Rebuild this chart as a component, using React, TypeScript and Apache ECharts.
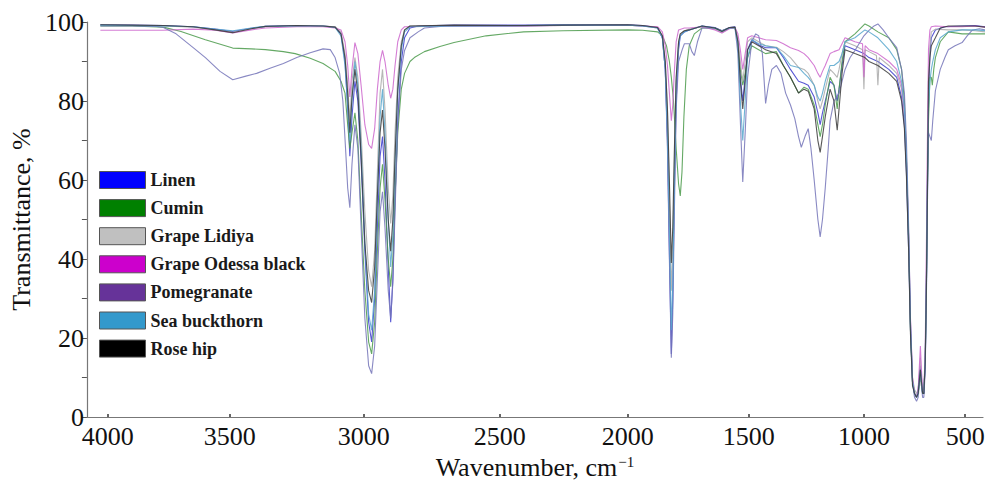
import React, { useEffect, useRef } from "react";
import * as echarts from "echarts";

const SERIES_NAMES = ["Linen", "Cumin", "Grape Lidiya", "Grape Odessa black", "Pomegranate", "Sea buckthorn", "Rose hip"];
const LEGEND_COLORS = ["#0000ff", "#008000", "#c0c0c0", "#cc00cc", "#663399", "#3399cc", "#000000"];
const LINE_COLORS = ["#3b3bcc", "#4a9a4a", "#a9a9a9", "#cc66cc", "#7474b8", "#56a6cc", "#3a3a3a"];

const X_TICKS = [4000, 3500, 3000, 2500, 2000, 1500, 1000, 500];
const Y_TICKS = [0, 20, 40, 60, 80, 100];

// axis calibration of the (non-uniform) wavenumber scale in the reference
const AXIS_WN = [4085, 4000, 3500, 3000, 2500, 2000, 1500, 1000, 500, 412];
const AXIS_PX = [80, 101, 224, 359, 496, 625, 747, 863, 965, 983];

const linen: [number, number][] = [[4030,99.3],[3900,99.2],[3772,99.1],[3650,98.8],[3560,98.2],[3489,97.6],[3420,98.4],[3367,98.9],[3250,99.1],[3152,99],[3107,98.7],[3085,97],[3070,90],[3060,78],[3052,66],[3044,76],[3033,85],[3022,80],[3010,65],[2996,42],[2982,24],[2971,19],[2960,30],[2950,48],[2940,66],[2931,71],[2922,60],[2910,38],[2901,24],[2893,35],[2885,55],[2875,75],[2862,90],[2850,96],[2830,98.5],[2800,99],[2668,99.2],[2407,99.2],[2252,99.3],[2000,99.3],[1939,99.1],[1877,98.6],[1857,96],[1845,88],[1836,70],[1828,42],[1820,16],[1814,30],[1808,55],[1800,80],[1790,93],[1783,96.5],[1766,97.5],[1746,98],[1693,99],[1640,98.6],[1611,97.8],[1580,98.6],[1557,98.8],[1545,95],[1535,86],[1525,80],[1515,86],[1505,93],[1487,95.5],[1457,94.2],[1427,93.5],[1380,93.5],[1350,91],[1319,88],[1284,85],[1260,84.5],[1242,84],[1216,81],[1200,77],[1190,74],[1180,77],[1168,80],[1147,85],[1130,84],[1116,80],[1108,83],[1095,89],[1082,94],[1060,93.5],[1039,93],[1000,92],[975,91],[931,90],[877,88],[838,86],[814,81],[800,74],[790,62],[779,42],[770,22],[760,9],[750,6],[740,5],[732,7],[725,11],[721,13],[716,9],[710,6],[704,6],[697,14],[691,32],[686,55],[681,80],[674,92],[667,96],[647,98],[600,98.8],[515,99],[451,99.1],[400,98.8]];

const cumin: [number, number][] = [[4030,99],[3900,99],[3772,98.7],[3700,97.6],[3600,95.5],[3489,93.4],[3420,93.2],[3367,93],[3300,92.5],[3256,92],[3200,90.8],[3152,89.5],[3107,87.5],[3085,85],[3070,82],[3060,74],[3052,68],[3044,72],[3033,77],[3022,70],[3010,52],[2996,32],[2982,19],[2971,16],[2960,24],[2950,42],[2940,58],[2931,64],[2922,55],[2910,40],[2901,33],[2893,40],[2885,56],[2875,72],[2862,83],[2850,87],[2830,90],[2814,91],[2777,92.5],[2720,93.8],[2668,94.8],[2550,96.5],[2407,97.5],[2252,97.8],[2000,98],[1939,97.9],[1877,97.5],[1857,96.5],[1840,94],[1828,90],[1820,86],[1811,80],[1800,68],[1790,59],[1783,56],[1776,62],[1768,76],[1758,88],[1746,94],[1725,97],[1693,98.5],[1640,98.5],[1611,97.8],[1580,98.5],[1557,98.5],[1545,95],[1535,88],[1525,84],[1515,87],[1505,91],[1487,94],[1457,93],[1427,92],[1380,92.5],[1350,89],[1319,86],[1284,82],[1260,83.5],[1242,83],[1216,79],[1200,74],[1190,71],[1180,74],[1168,79],[1147,86],[1130,84],[1116,78],[1108,83],[1095,90],[1082,95],[1039,97],[995,99.5],[975,99],[931,97.5],[877,96],[838,93],[814,88],[800,80],[790,66],[779,45],[770,22],[760,9],[750,6],[740,5],[732,6],[725,9],[721,11],[716,8],[710,6],[704,6],[697,15],[691,35],[686,58],[681,75],[674,86],[667,86],[662,84],[655,88],[647,91],[623,95],[583,97.5],[515,97],[451,97],[400,97]];

const grapeLidiya: [number, number][] = [[4030,99.2],[3900,99.1],[3772,99],[3650,98.7],[3560,98],[3489,97.4],[3420,98.3],[3367,98.8],[3250,99],[3152,99],[3107,98.8],[3085,97.5],[3070,92],[3060,84],[3052,75],[3044,85],[3033,91],[3022,86],[3010,72],[2996,52],[2982,37],[2971,33],[2960,42],[2950,62],[2940,82],[2931,88],[2922,78],[2910,58],[2901,49],[2893,56],[2885,72],[2875,86],[2862,95],[2850,98],[2830,99],[2668,99.1],[2407,99],[2252,99.1],[2000,99.2],[1939,99],[1877,98.6],[1857,96.5],[1845,90],[1836,78],[1828,55],[1820,32],[1814,42],[1808,62],[1800,85],[1790,95],[1783,97],[1766,97.8],[1746,98.2],[1693,98.8],[1640,98.2],[1611,97.3],[1580,98.5],[1557,98.6],[1545,96],[1535,90],[1525,85],[1515,90],[1505,95],[1487,96],[1457,95],[1427,94],[1380,93.6],[1350,92.5],[1319,91],[1284,88.5],[1260,88],[1242,87],[1216,84],[1200,80],[1190,78],[1180,80],[1168,83],[1147,88],[1130,87],[1116,86],[1108,88],[1095,92],[1082,95],[1039,94],[1006,93],[1000,83],[994,93],[975,92.5],[938,91.5],[931,84],[924,91],[877,89],[838,87],[814,83],[800,76],[790,64],[779,45],[770,24],[760,10],[750,7],[740,6],[732,7],[725,12],[721,15],[716,10],[710,7],[704,6],[697,16],[691,38],[686,62],[681,85],[674,94],[667,97.5],[647,98.2],[583,98],[515,98],[451,97.8],[400,97.5]];

const grapeOdessa: [number, number][] = [[4030,97.9],[3900,97.9],[3772,97.9],[3650,98.2],[3560,97.9],[3489,97.2],[3420,98],[3367,98.5],[3250,98.8],[3152,98.8],[3107,98.5],[3085,98],[3070,95],[3060,89],[3052,81],[3044,88],[3033,94.8],[3022,92],[3010,84],[2996,74],[2982,69],[2971,68],[2960,73],[2950,83],[2940,90],[2931,92.8],[2922,90],[2910,84],[2901,80.7],[2893,83],[2885,89],[2875,95],[2862,98],[2850,98.8],[2668,99],[2407,99],[2252,99.1],[2000,99.2],[1939,99],[1877,98.8],[1857,97.5],[1845,94],[1836,89],[1828,82],[1820,75],[1814,79],[1808,87],[1800,95],[1790,98],[1766,98.5],[1746,98.5],[1693,98.8],[1640,98],[1611,97.2],[1580,98.3],[1557,98.6],[1545,97],[1535,93],[1525,88],[1515,92],[1505,96],[1487,96.5],[1457,96],[1427,95.5],[1380,95.3],[1350,94.5],[1319,93.5],[1284,92.8],[1260,92],[1242,91],[1216,89],[1200,87],[1190,86],[1180,87.5],[1168,89],[1147,92],[1130,92.5],[1108,93],[1082,96],[1039,95],[1006,94.5],[1000,86],[994,94],[975,93],[931,92],[877,90],[838,88],[814,84],[800,77],[790,65],[779,46],[770,25],[760,10],[750,6],[740,5],[732,7],[725,14],[721,18],[716,12],[710,7],[704,6],[697,18],[691,45],[686,72],[681,93],[674,98],[667,98.8],[647,99],[583,98.8],[515,98.8],[451,99],[400,98.7]];

const pomegranate: [number, number][] = [[4030,99],[3900,99],[3800,98.9],[3772,98.6],[3720,97],[3650,93.5],[3600,91],[3540,87.5],[3489,85.4],[3440,86.3],[3400,87],[3350,88.3],[3300,89.5],[3250,91],[3200,92.2],[3152,93.2],[3125,93],[3107,91],[3090,87],[3078,80],[3068,68],[3060,58],[3052,53],[3044,64],[3033,74],[3022,68],[3010,48],[2996,25],[2982,13],[2971,11],[2960,18],[2950,35],[2940,52],[2931,57],[2922,48],[2910,32],[2901,25],[2893,34],[2885,52],[2875,74],[2862,88],[2850,92.8],[2830,96],[2800,97.5],[2777,98.5],[2700,99],[2407,99],[2252,99.2],[2000,99.2],[1939,99],[1877,98.5],[1857,96],[1845,88],[1836,68],[1828,40],[1820,15],[1814,26],[1808,50],[1800,78],[1790,90],[1775,93],[1766,94.5],[1746,94.5],[1735,92.5],[1725,91.5],[1712,95],[1693,98.5],[1640,98.5],[1611,97.8],[1580,98.5],[1557,98.5],[1545,92],[1535,75],[1525,59.5],[1515,72],[1505,86],[1487,95],[1470,97],[1457,96.5],[1441,92],[1427,79.4],[1415,84],[1400,88],[1380,89],[1360,87],[1340,82],[1319,79],[1300,75.5],[1284,71],[1272,68.3],[1256,71],[1242,73],[1230,68],[1216,60],[1200,50],[1190,45.6],[1180,50],[1168,58],[1155,68],[1147,75],[1130,80],[1108,82],[1095,85],[1082,88],[1060,91],[1039,92.8],[1000,96.5],[975,97.9],[950,99],[931,99.5],[905,98],[877,96],[838,93.5],[814,88],[800,82],[790,70],[779,48],[770,24],[760,9],[750,5],[740,4],[732,5],[725,9],[721,12],[716,8],[710,5],[704,5],[697,12],[691,35],[686,62],[681,72],[674,71],[667,70],[660,75],[647,82.6],[623,88],[600,91],[583,93],[550,94],[515,94.8],[490,96.5],[466,97.9],[430,98.3],[400,98]];

const seaBuckthorn: [number, number][] = [[4030,99.2],[3900,99.1],[3772,99],[3650,98.8],[3560,98.2],[3489,97.8],[3420,98.5],[3367,98.9],[3250,99],[3152,99],[3107,98.6],[3085,96.5],[3070,89],[3060,79],[3052,70],[3044,80],[3033,90],[3022,84],[3010,68],[2996,44],[2982,26],[2971,22],[2960,32],[2950,55],[2940,76],[2931,83],[2922,72],[2910,50],[2901,38],[2893,46],[2885,64],[2875,82],[2862,93],[2850,97.5],[2830,98.8],[2668,99],[2407,99.1],[2252,99.2],[2000,99.2],[1939,99],[1877,98.5],[1857,96],[1845,88],[1836,72],[1828,48],[1820,22],[1814,34],[1808,58],[1800,84],[1790,94],[1783,96.5],[1766,97.5],[1746,98],[1693,99],[1640,98.4],[1611,97.6],[1580,98.5],[1557,98.6],[1545,94],[1535,80],[1525,70],[1515,80],[1505,91],[1487,95.5],[1457,94.5],[1427,94],[1380,93.5],[1350,91.5],[1319,89],[1284,88.5],[1260,87],[1242,86],[1216,84],[1200,81],[1190,80],[1180,82],[1168,85],[1147,89],[1130,89],[1108,90],[1095,92],[1082,95],[1039,96],[995,98],[975,97.5],[931,96],[877,93],[838,90],[814,85],[800,78],[790,65],[779,45],[770,23],[760,9],[750,6],[740,5],[732,6],[725,10],[721,12],[716,9],[710,6],[704,6],[697,15],[691,36],[686,60],[681,78],[674,85],[667,88],[660,90],[647,93],[623,96],[583,97.5],[515,98],[451,98],[400,97.8]];

const roseHip: [number, number][] = [[4030,99.3],[3900,99.2],[3772,99.1],[3650,98.8],[3560,98],[3489,97.3],[3420,98.3],[3367,98.9],[3250,99.1],[3152,99],[3107,98.7],[3085,97],[3070,91],[3060,82],[3052,72],[3044,81],[3033,88],[3022,82],[3010,66],[2996,44],[2982,32],[2971,29],[2960,38],[2950,56],[2940,72],[2931,77.7],[2922,68],[2910,50],[2901,42],[2893,50],[2885,66],[2875,83],[2862,94],[2850,98],[2830,99],[2668,99.2],[2407,99.1],[2252,99.2],[2000,99.3],[1939,99.1],[1877,98.6],[1857,96.5],[1845,90],[1836,78],[1828,60],[1820,39],[1814,48],[1808,66],[1800,86],[1790,95],[1783,97],[1766,97.8],[1746,98],[1693,99],[1640,98.5],[1611,97.6],[1580,98.6],[1557,98.7],[1545,95],[1535,85],[1525,78],[1515,85],[1505,93],[1487,95],[1457,94],[1427,93],[1380,92],[1350,89],[1319,86],[1284,82],[1260,83],[1242,82.5],[1216,78],[1200,70],[1190,67],[1180,71],[1168,76],[1147,83],[1130,80],[1116,72.6],[1108,78],[1095,87],[1082,93],[1039,92],[995,91],[975,90],[931,89],[877,87],[838,85],[814,80],[800,73],[790,61],[779,42],[770,21],[760,8],[750,6],[740,5],[732,6],[725,10],[721,12],[716,9],[710,6],[704,6],[697,14],[691,34],[686,58],[681,85],[674,91],[667,94],[647,96],[623,98.5],[583,99],[515,99],[451,99],[400,98.7]];

const SERIES_DATA = [linen, cumin, grapeLidiya, grapeOdessa, pomegranate, seaBuckthorn, roseHip];

function wnToX(wn: number): number {
  const n = AXIS_WN.length;
  for (let i = 0; i < n - 1; i++) {
    const a = AXIS_WN[i], b = AXIS_WN[i + 1];
    if (wn <= a && wn >= b) {
      return AXIS_PX[i] + ((a - wn) / (a - b)) * (AXIS_PX[i + 1] - AXIS_PX[i]);
    }
  }
  if (wn > AXIS_WN[0]) {
    return AXIS_PX[0] - ((wn - AXIS_WN[0]) / (AXIS_WN[0] - AXIS_WN[1])) * (AXIS_PX[1] - AXIS_PX[0]);
  }
  const a = AXIS_WN[n - 2], b = AXIS_WN[n - 1];
  return AXIS_PX[n - 1] + ((b - wn) / (a - b)) * (AXIS_PX[n - 1] - AXIS_PX[n - 2]);
}

const TICK_X = X_TICKS.map(wnToX);
const SERIF = "Liberation Serif";

export default function App() {
  const ref = useRef<HTMLDivElement>(null);
  useEffect(() => {
    if (!ref.current) return;
    const chart = echarts.init(ref.current, undefined, { renderer: "svg" });
    chart.setOption({
      animation: false,
      backgroundColor: "#ffffff",
      textStyle: { fontFamily: SERIF },
      grid: { left: 80, right: 6, top: 22, bottom: 67 },
      legend: {
        data: SERIES_NAMES,
        orient: "vertical",
        left: 99,
        top: 171,
        padding: 0,
        icon: "rect",
        itemWidth: 46,
        itemHeight: 17,
        itemGap: 10.1,
        selectedMode: false,
        itemStyle: { borderColor: "#555555", borderWidth: 1 },
        textStyle: { fontFamily: SERIF, fontWeight: "bold", fontSize: 18, color: "#1a1a1a" },
      },
      xAxis: {
        type: "value",
        min: AXIS_PX[0],
        max: AXIS_PX[AXIS_PX.length - 1],
        name: "Wavenumber, cm{sup|−1}",
        nameLocation: "middle",
        nameGap: 33,
        nameTextStyle: {
          fontFamily: SERIF,
          fontSize: 26,
          color: "#111",
          rich: { sup: { fontFamily: SERIF, fontSize: 15, color: "#111", verticalAlign: "top", padding: [0, 0, 10, 1] } },
        },
        axisLine: { show: true, onZero: false, lineStyle: { color: "#777", width: 1.2 } },
        axisTick: { show: true, inside: true, length: 3, customValues: TICK_X, lineStyle: { color: "#333", width: 1.5 } },
        axisLabel: {
          customValues: TICK_X,
          margin: 6,
          fontFamily: SERIF,
          fontSize: 26,
          color: "#111",
          formatter: (v: number) => {
            const i = TICK_X.findIndex((t) => Math.abs(t - v) < 0.5);
            return i >= 0 ? String(X_TICKS[i]) : "";
          },
        },
        splitLine: { show: false },
      },
      yAxis: {
        type: "value",
        min: 0,
        max: 100,
        interval: 10,
        name: "Transmittance, %",
        nameLocation: "middle",
        nameGap: 50,
        nameTextStyle: { fontFamily: SERIF, fontSize: 26, color: "#111" },
        axisLine: { show: true, lineStyle: { color: "#777", width: 1.2 } },
        axisTick: { show: true, inside: false, length: 5, lineStyle: { color: "#555" } },
        axisLabel: {
          margin: 3,
          fontFamily: SERIF,
          fontSize: 26,
          color: "#111",
          formatter: (v: number) => (Y_TICKS.indexOf(v) >= 0 ? String(v) : ""),
        },
        splitLine: { show: false },
      },
      series: SERIES_NAMES.map((name, i) => ({
        name,
        type: "line",
        data: SERIES_DATA[i].map(([wn, t]) => [wnToX(wn), t]),
        showSymbol: false,
        symbol: "none",
        clip: false,
        itemStyle: { color: LEGEND_COLORS[i] },
        lineStyle: { color: LINE_COLORS[i], width: 1.1, opacity: 0.85 },
        emphasis: { disabled: true },
      })),
    });
    return () => chart.dispose();
  }, []);
  return (
    <div
      ref={ref}
      style={{ position: "fixed", left: 0, top: 0, width: 989, height: 485, background: "#fff" }}
    />
  );
}
